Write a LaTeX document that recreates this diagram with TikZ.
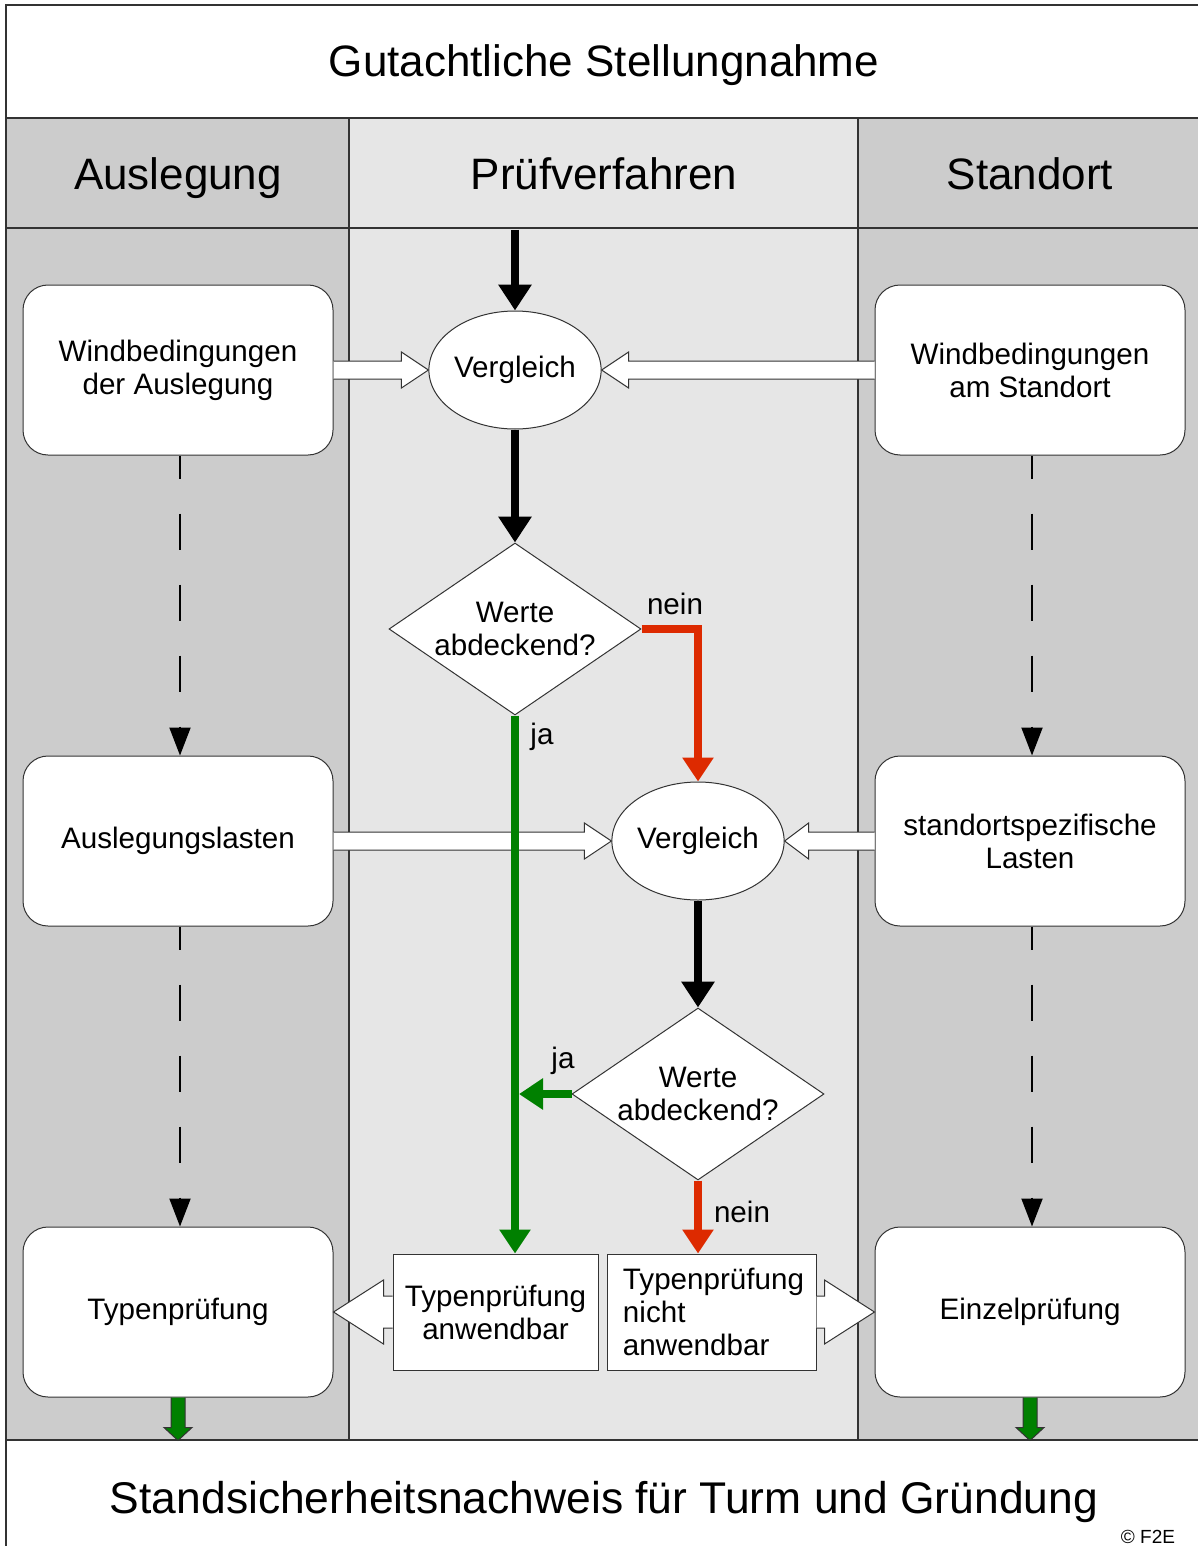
\documentclass[tikz,border=0pt]{standalone}
\usepackage{fontspec}
\setmainfont{Liberation Sans}
\usetikzlibrary{shapes.geometric,arrows.meta,calc}

\definecolor{laneout}{HTML}{CCCCCC}
\definecolor{lanemid}{HTML}{E6E6E6}
\definecolor{yesgreen}{HTML}{008000}
\definecolor{nored}{HTML}{DD2A00}

% hollow block arrow: start, tip, head length, shaft half, head half
\newcommand{\blockto}[5]{\draw[hollow] ($(#1)+(0,-#4)$) -- ($(#2)+(#3,-#4)$) -- ($(#2)+(#3,-#5)$) -- (#2) -- ($(#2)+(#3,#5)$) -- ($(#2)+(#3,#4)$) -- ($(#1)+(0,#4)$);}

\begin{document}
\begin{tikzpicture}[x=0.5pt,y=-0.5pt,
    frame/.style={draw=black!80, line width=0.7pt},
    lanebox/.style={draw=black!80, fill=white, line width=0.5pt, rounded corners=12.5pt,
        minimum width=155pt, minimum height=85pt, align=center, font=\fontsize{14.8}{16.5}\selectfont},
    cmpoval/.style={draw=black!80, fill=white, line width=0.5pt, ellipse, inner sep=0pt,
        minimum width=86pt, minimum height=59pt, font=\fontsize{14.8}{16.5}\selectfont},
    askdia/.style={draw=black!80, fill=white, line width=0.5pt, diamond, aspect=1.46, inner sep=0pt,
        minimum width=126pt, minimum height=86pt, align=center, font=\fontsize{14.8}{16.5}\selectfont},
    resbox/.style={draw=black!80, fill=white, line width=0.5pt, minimum height=58pt, inner ysep=0pt,
        font=\fontsize{14.8}{16.5}\selectfont},
    lbl/.style={font=\fontsize{14.8}{16.5}\selectfont},
    head/.style={anchor=base, font=\fontsize{22}{26}\selectfont},
    hollow/.style={draw=black!80, fill=white, line width=0.5pt},
    gblock/.style={draw=black!80, fill=yesgreen, line width=0.5pt},
    flowblack/.style={line width=4pt, -{Triangle[length=13pt,width=16pt]}},
    flowyes/.style={yesgreen, line width=4pt, -{Triangle[length=12pt,width=15pt]}},
    flowno/.style={nored, line width=4pt, -{Triangle[length=12pt,width=15pt]}},
    dashflow/.style={line width=1pt, dash pattern=on 18pt off 17.5pt, dash phase=6.5pt,
        -{Triangle[length=14pt,width=10.5pt]}}]
\useasboundingbox (0,0) rectangle (1198,1546);

% lanes
\fill[laneout] (6,118) rectangle (349,1440);
\fill[lanemid] (349,118) rectangle (858,1440);
\fill[laneout] (858,118) rectangle (1198,1440);
\draw[frame] (1198,5) -- (6,5) -- (6,1546);
\draw[frame] (6,118) -- (1198,118);
\draw[frame] (6,228) -- (1198,228);
\draw[frame] (6,1440) -- (1198,1440);
\draw[frame] (349,118) -- (349,1440);
\draw[frame] (858,118) -- (858,1440);

\node[head] (title) at (604,77) {Gutachtliche Stellungnahme};
\node[head] (hAus) at (178,190) {Auslegung};
\node[head] (hPru) at (604,190) {Prüfverfahren};
\node[head] (hSta) at (1030,190) {Standort};
\node[head, font=\fontsize{22.2}{26}\selectfont] (result) at (604,1513) {Standsicherheitsnachweis für Turm und Gründung};
\node[font=\fontsize{9.5}{11}\selectfont] (copy) at (1148,1537) {© F2E};

% boxes
\node[lanebox] (wbA) at (178,370) {Windbedingungen\\der Auslegung};
\node[lanebox] (wbS) at (1030,370) {Windbedingungen\\am Standort};
\node[lanebox] (ausL) at (178,841) {Auslegungslasten};
\node[lanebox] (stL) at (1030,841) {standortspezifische\\Lasten};
\node[lanebox] (typ) at (178,1312) {Typenprüfung};
\node[lanebox] (einz) at (1030,1312) {Einzelprüfung};

\node[cmpoval] (V1) at (515,370) {Vergleich};
\node[cmpoval] (V2) at (698,841) {Vergleich};
\node[askdia] (D1) at (515,629) {Werte\\abdeckend?};
\node[askdia] (D2) at (698,1094) {Werte\\abdeckend?};

\node[resbox, minimum width=102.5pt, text width=102.5pt, inner xsep=0pt, align=center]
    (TA) at (495.5,1312) {Typenprüfung\\anwendbar};
\node[resbox, minimum width=104.5pt, align=left]
    (TNA) at (711.5,1312) {\hspace*{2pt}Typenprüfung\\\hspace*{2pt}nicht\\\hspace*{2pt}anwendbar};

% hollow arrows
\blockto{wbA.east}{V1.west}{-27}{9}{18}
\blockto{wbS.west}{V1.east}{27}{9}{18}
\blockto{ausL.east}{V2.west}{-27}{9}{18}
\blockto{stL.west}{V2.east}{24}{9}{18}
\blockto{TA.west}{typ.east}{50}{16}{32}
\blockto{TNA.east}{einz.west}{-50}{16}{32}

% flow
\coordinate (in) at (515,230);
\draw[flowblack] (in) -- (V1.north);
\draw[flowblack] (V1.south) -- (D1.north);
\draw[flowblack] (V2.south) -- (D2.north);
\draw[flowyes] (D1.south) -- (D1.south |- TA.north);
\draw[flowyes, shorten >=2pt] (D2.west) -- (D1.south |- D2.west);
\draw[flowno] (D1.east) -| (V2.north);
\draw[flowno] (D2.south) -- (D2.south |- TNA.north);

\node[lbl] (nein1) at (675,604) {nein};
\node[lbl] (ja1) at (542,737) {ja};
\node[lbl] (ja2) at (563,1061) {ja};
\node[lbl] (nein2) at (742,1212) {nein};

% dashed
\draw[dashflow] (wbA.south) ++(2,0) -- ($(ausL.north)+(2,0)$);
\draw[dashflow] (ausL.south) ++(2,0) -- ($(typ.north)+(2,0)$);
\draw[dashflow] (wbS.south) ++(2,0) -- ($(stL.north)+(2,0)$);
\draw[dashflow] (stL.south) ++(2,0) -- ($(einz.north)+(2,0)$);

% to result
\draw[gblock] ($(typ.south)+(-7,0)$) -- ++(0,30) -- ++(-7,0) -- ++(14,13) -- ++(14,-13) -- ++(-7,0) -- ++(0,-30);
\draw[gblock] ($(einz.south)+(-7,0)$) -- ++(0,30) -- ++(-7,0) -- ++(14,13) -- ++(14,-13) -- ++(-7,0) -- ++(0,-30);
\end{tikzpicture}
\end{document}
